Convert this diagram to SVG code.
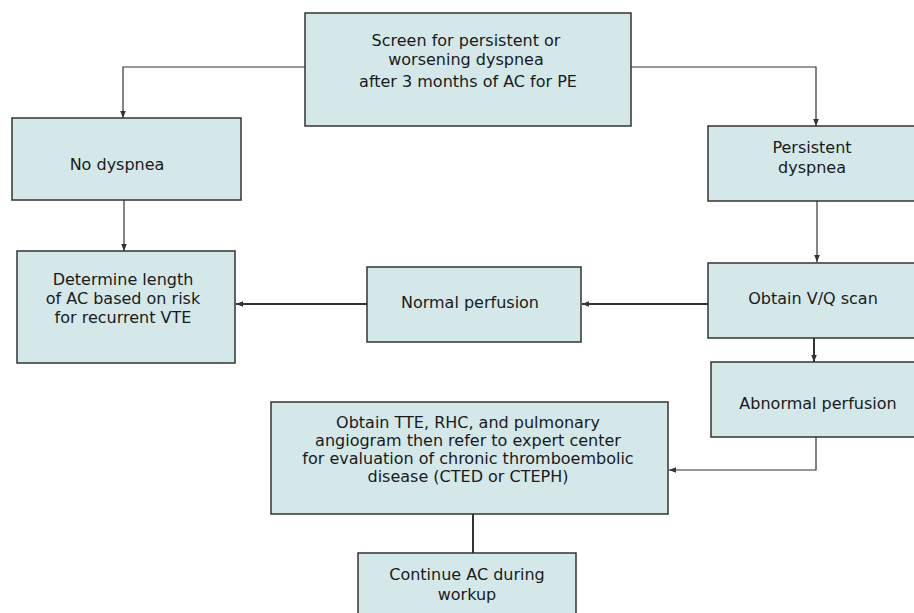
<svg xmlns="http://www.w3.org/2000/svg" width="914" height="613" viewBox="0 0 914 613">
<style>
.box{fill:#d4e8ea;stroke:#333;stroke-width:1.5}
text{font-family:"DejaVu Sans",sans-serif;font-size:16px;fill:#1a1a1a;text-anchor:middle}
.c{fill:none;stroke:#333;stroke-width:1.2}
.t{fill:none;stroke:#333;stroke-width:2}
</style>
<defs>
<marker id="ah" viewBox="0 0 10 10" refX="10" refY="5" markerWidth="7" markerHeight="7" markerUnits="userSpaceOnUse" orient="auto">
<path d="M0,1 L10,5 L0,9 z" fill="#333"/>
</marker>
</defs>
<g id="connectors">
<path class="c" d="M305,67 H123 V118" marker-end="url(#ah)"/>
<path class="c" d="M631,67 H816 V126" marker-end="url(#ah)"/>
<path class="c" d="M124,200 V251" marker-end="url(#ah)"/>
<path class="c" d="M817,201 V262" marker-end="url(#ah)"/>
<path class="t" d="M708,304 H582" marker-end="url(#ah)"/>
<path class="t" d="M367,304 H236" marker-end="url(#ah)"/>
<path class="t" d="M814,338 V362" marker-end="url(#ah)"/>
<path class="c" d="M816,437 V470 H669" marker-end="url(#ah)"/>
<path class="t" d="M473,514 V553"/>
</g>
<g id="screen">
<rect class="box" x="305" y="13" width="326" height="113"/>
<text x="466" y="46">Screen for persistent or</text>
<text x="466" y="64.5">worsening dyspnea</text>
<text x="468" y="87">after 3 months of AC for PE</text>
</g>
<g id="no-dyspnea">
<rect class="box" x="12" y="118" width="229" height="82"/>
<text x="117" y="170">No dyspnea</text>
</g>
<g id="persistent">
<rect class="box" x="708" y="126" width="210" height="75"/>
<text x="812" y="153">Persistent</text>
<text x="812" y="173">dyspnea</text>
</g>
<g id="determine">
<rect class="box" x="17" y="251" width="218" height="112"/>
<text x="123" y="285">Determine length</text>
<text x="123" y="304">of AC based on risk</text>
<text x="123" y="323">for recurrent VTE</text>
</g>
<g id="normal">
<rect class="box" x="367" y="267" width="214" height="75"/>
<text x="470" y="308">Normal perfusion</text>
</g>
<g id="vq">
<rect class="box" x="708" y="263" width="210" height="75"/>
<text x="813" y="304">Obtain V/Q scan</text>
</g>
<g id="abnormal">
<rect class="box" x="711" y="362" width="207" height="75"/>
<text x="818" y="409">Abnormal perfusion</text>
</g>
<g id="tte">
<rect class="box" x="271" y="402" width="397" height="112"/>
<text x="468" y="428">Obtain TTE, RHC, and pulmonary</text>
<text x="468" y="446">angiogram then refer to expert center</text>
<text x="468" y="464">for evaluation of chronic thromboembolic</text>
<text x="468" y="482">disease (CTED or CTEPH)</text>
</g>
<g id="continue">
<rect class="box" x="358" y="553" width="218" height="70"/>
<text x="467" y="580">Continue AC during</text>
<text x="467" y="600">workup</text>
</g>
</svg>
